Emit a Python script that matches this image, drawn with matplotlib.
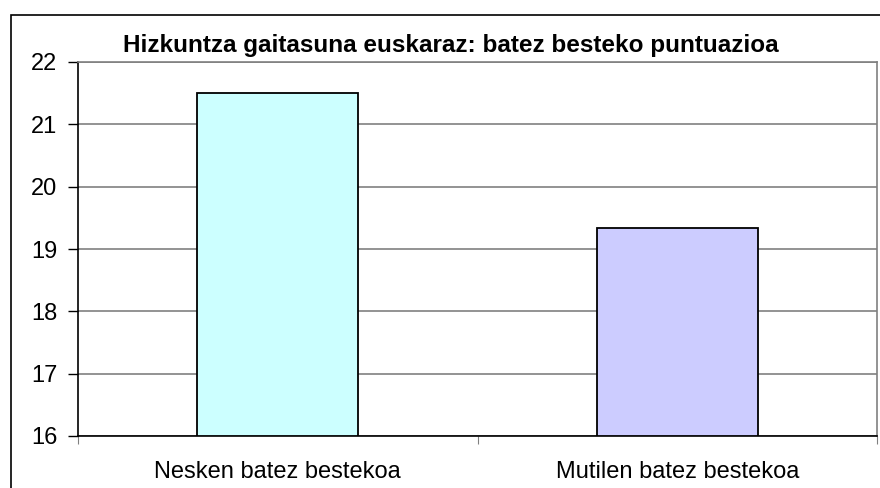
import matplotlib.pyplot as plt
from matplotlib.patches import Rectangle

categories = ["Nesken batez bestekoa", "Mutilen batez bestekoa"]
values = [21.5, 19.33]
colors = ["#CCFFFF", "#CCCCFF"]
yticks = [16, 17, 18, 19, 20, 21, 22]
title = "Hizkuntza gaitasuna euskaraz: batez besteko puntuazioa"

plt.rcParams["font.family"] = ["Liberation Sans", "DejaVu Sans"]

fig = plt.figure(figsize=(8.8, 4.88), dpi=100)
ax = fig.add_axes([78 / 880, 1 - 436 / 488, (877 - 78) / 880, (436 - 62) / 488])

# outer chart border (right and bottom edges are outside the picture)
fig.patches.append(Rectangle((11 / 880, -0.1), 1.0, 1 - 15 / 488 + 0.1,
                             transform=fig.transFigure, fill=False,
                             edgecolor="black", linewidth=1.2))

x = [0, 1]
ax.bar(x, [v - 16 for v in values], bottom=16, width=0.403, color=colors,
       edgecolor="black", linewidth=1.3, zorder=3)

ax.set_xlim(-0.5, 1.5)
ax.set_ylim(16, 22)
ax.set_yticks(yticks)
ax.set_yticklabels([str(t) for t in yticks], fontsize=17)
ax.yaxis.grid(True, color="#808080", linewidth=1.2)
ax.set_axisbelow(True)

ax.set_xticks([-0.5, 0.5, 1.5])
ax.set_xticklabels([])
ax.set_xticks(x, minor=True)
ax.set_xticklabels(categories, minor=True, fontsize=17)
ax.tick_params(axis="x", which="minor", length=0, pad=18)
ax.tick_params(axis="x", which="major", direction="out", length=6, color="#808080")
ax.tick_params(axis="y", direction="out", length=7, width=1, pad=8)

for side in ["top", "right"]:
    ax.spines[side].set_color("#808080")
    ax.spines[side].set_linewidth(1.2)
ax.spines["left"].set_color("black")
ax.spines["bottom"].set_color("black")
ax.spines["left"].set_linewidth(1.2)
ax.spines["bottom"].set_linewidth(1.2)

fig.text(451 / 880, 1 - 46 / 488, title, ha="center", va="center",
         fontsize=17.5, fontweight="bold")

fig.savefig("out.png", dpi=100)
